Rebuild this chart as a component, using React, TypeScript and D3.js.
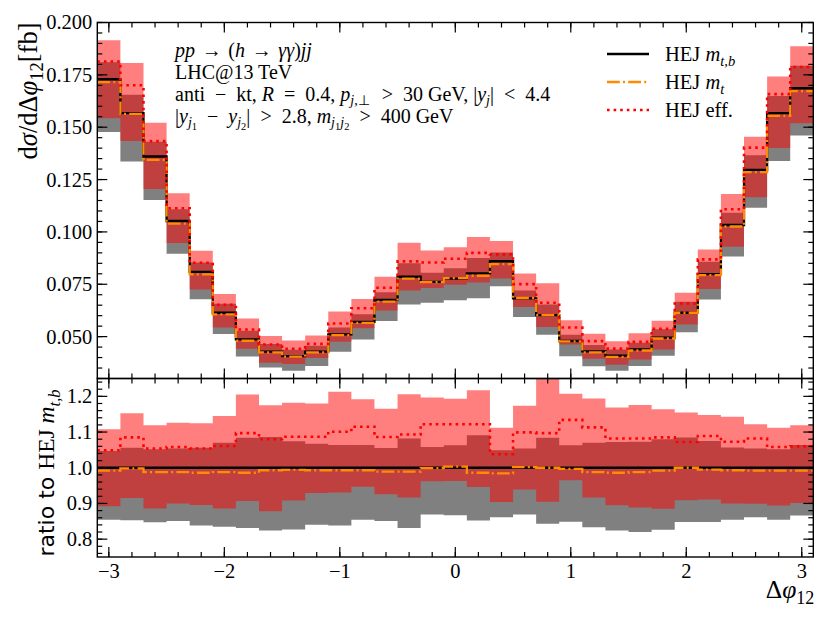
import React from 'react';
import * as d3 from 'd3';

// ---------- data ----------
const binCenters = [
  -3.0, -2.8, -2.6, -2.4, -2.2, -2.0, -1.8, -1.6, -1.4, -1.2, -1.0, -0.8, -0.6, -0.4, -0.2,
  0.0, 0.2, 0.4, 0.6, 0.8, 1.0, 1.2, 1.4, 1.6, 1.8, 2.0, 2.2, 2.4, 2.6, 2.8, 3.0,
];
const binWidth = 0.2;

// HEJ m_{t,b} central value [fb]
const centralMtb = [
  0.1729, 0.1567, 0.136, 0.1052, 0.0809, 0.0614, 0.0487, 0.0428, 0.0407, 0.0428, 0.0511,
  0.057, 0.0675, 0.0786, 0.0761, 0.0777, 0.0802, 0.086, 0.0683, 0.0603, 0.0479, 0.043,
  0.0409, 0.0439, 0.0495, 0.0614, 0.0798, 0.1033, 0.1296, 0.1567, 0.1686,
];
// ratios to HEJ m_{t,b}
const ratioMt = [
  0.992, 0.998, 0.988, 0.988, 0.986, 0.988, 0.986, 0.993, 0.994, 0.993, 0.993, 0.993, 0.989,
  0.989, 0.999, 1.003, 0.986, 0.984, 1.002, 1.0, 0.997, 0.988, 0.986, 0.988, 0.992, 1.0,
  0.995, 0.993, 0.992, 0.992, 0.992,
];
const ratioEff = [
  1.049, 1.085, 1.054, 1.058, 1.054, 1.061, 1.097, 1.08, 1.087, 1.087, 1.101, 1.115, 1.086,
  1.093, 1.122, 1.122, 1.122, 1.038, 1.099, 1.097, 1.134, 1.113, 1.082, 1.082, 1.085, 1.072,
  1.089, 1.073, 1.082, 1.058, 1.06,
];
// scale-uncertainty band of HEJ m_{t,b} (grey)
const mtbBandLo = [
  0.854, 0.853, 0.847, 0.851, 0.838, 0.835, 0.831, 0.824, 0.827, 0.84, 0.838, 0.854, 0.851,
  0.831, 0.869, 0.867, 0.852, 0.861, 0.869, 0.843, 0.849, 0.833, 0.824, 0.82, 0.826, 0.848,
  0.848, 0.854, 0.861, 0.854, 0.866,
];
const mtbBandHi = [
  1.047, 1.056, 1.052, 1.054, 1.056, 1.07, 1.084, 1.086, 1.074, 1.067, 1.064, 1.064, 1.055,
  1.082, 1.058, 1.063, 1.091, 1.049, 1.054, 1.084, 1.063, 1.07, 1.072, 1.073, 1.08, 1.085,
  1.075, 1.057, 1.054, 1.052, 1.064,
];
// scale-uncertainty band of HEJ eff. (red, translucent)
const effBandLo = [
  0.892, 0.915, 0.886, 0.9, 0.896, 0.886, 0.907, 0.878, 0.908, 0.929, 0.931, 0.947, 0.926,
  0.917, 0.962, 0.963, 0.946, 0.904, 0.939, 0.905, 0.965, 0.917, 0.895, 0.889, 0.885, 0.909,
  0.911, 0.9, 0.899, 0.894, 0.901,
];
const effBandHi = [
  1.108, 1.153, 1.119, 1.126, 1.125, 1.145, 1.205, 1.175, 1.182, 1.18, 1.213, 1.192, 1.165,
  1.206, 1.197, 1.193, 1.217, 1.112, 1.174, 1.252, 1.207, 1.194, 1.169, 1.176, 1.164, 1.155,
  1.148, 1.143, 1.122, 1.112, 1.119,
];

const xMajorTicks = [-3, -2, -1, 0, 1, 2, 3];
const mainMajorTicks = [0.05, 0.075, 0.1, 0.125, 0.15, 0.175, 0.2];
const ratioMajorTicks = [0.8, 0.9, 1.0, 1.1, 1.2];

// ---------- layout ----------
const W = 830;
const H = 623;
const L = 97.3;
const R = 813.3;
const mainTop = 22.5;
const mainBot = 378.5;
const ratioBot = 557;

const x = d3.scaleLinear().domain([-3.1, 3.1]).range([L, R]);
const yMain = d3.scaleLinear().domain([0.03, 0.2]).range([mainBot, mainTop]);
const yRatio = d3.scaleLinear().domain([0.75, 1.25]).range([ratioBot, mainBot]);

const SERIF = "'Liberation Serif', 'Times New Roman', serif";
const SANS = "'DejaVu Sans', sans-serif";
const SP = '\u2002'; // wider math spacing around relations
const SP3 = '\u2004'; // three-per-em space

type Pt = [number, number];
type BandPt = [number, number, number];

function stepPoints(vals: number[]): Pt[] {
  const pts: Pt[] = binCenters.map((c, i) => [c - binWidth / 2, vals[i]] as Pt);
  pts.push([binCenters[binCenters.length - 1] + binWidth / 2, vals[vals.length - 1]]);
  return pts;
}
function bandPoints(lo: number[], hi: number[]): BandPt[] {
  const pts: BandPt[] = binCenters.map((c, i) => [c - binWidth / 2, lo[i], hi[i]] as BandPt);
  pts.push([binCenters[binCenters.length - 1] + binWidth / 2, lo[lo.length - 1], hi[hi.length - 1]]);
  return pts;
}

function Panel({
  y,
  factor,
  clipId,
  top,
  bottom,
}: {
  y: d3.ScaleLinear<number, number>;
  factor: number[];
  clipId: string;
  top: number;
  bottom: number;
}) {
  const mul = (a: number[]) => a.map((v, i) => v * factor[i]);
  const line = d3
    .line<Pt>()
    .x((d) => x(d[0]))
    .y((d) => y(d[1]))
    .curve(d3.curveStepAfter);
  const area = d3
    .area<BandPt>()
    .x((d) => x(d[0]))
    .y0((d) => y(d[1]))
    .y1((d) => y(d[2]))
    .curve(d3.curveStepAfter);
  const centralLine = binCenters.map(() => 1);
  return (
    <g>
      <defs>
        <clipPath id={clipId}>
          <rect x={L} y={top} width={R - L} height={bottom - top} />
        </clipPath>
      </defs>
      <g clipPath={`url(#${clipId})`}>
        <path d={area(bandPoints(mul(mtbBandLo), mul(mtbBandHi))) || ''} fill="#808080" />
        <path
          d={area(bandPoints(mul(effBandLo), mul(effBandHi))) || ''}
          fill="red"
          fillOpacity={0.5}
        />
        <path
          d={line(stepPoints(mul(centralLine))) || ''}
          fill="none"
          stroke="black"
          strokeWidth={2.3}
        />
        <path
          d={line(stepPoints(mul(ratioMt))) || ''}
          fill="none"
          stroke="#ff8c00"
          strokeWidth={2.3}
          strokeDasharray="12.8 3.2 2 3.2"
        />
        <path
          d={line(stepPoints(mul(ratioEff))) || ''}
          fill="none"
          stroke="red"
          strokeWidth={2.6}
          strokeDasharray="2.6 4"
        />
      </g>
    </g>
  );
}

function Ticks({
  y,
  top,
  bottom,
  majors,
  minorStep,
  fmt,
}: {
  y: d3.ScaleLinear<number, number>;
  top: number;
  bottom: number;
  majors: number[];
  minorStep: number;
  fmt: (v: number) => string;
}) {
  const [d0, d1] = y.domain();
  const yMinors: number[] = [];
  for (let k = Math.ceil(d0 / minorStep - 1e-6); k * minorStep <= d1 + 1e-9; k++) {
    yMinors.push(+(k * minorStep).toFixed(4));
  }
  const xMinors: number[] = [];
  for (let k = -15; k <= 15; k++) xMinors.push(+(k * 0.2).toFixed(2));
  const MAJ = 10;
  const MIN = 5;
  const sw = 1.2;
  return (
    <g stroke="black" strokeWidth={sw}>
      {yMinors.map((v) => (
        <g key={'ym' + v}>
          <line x1={L} x2={L + MIN} y1={y(v)} y2={y(v)} />
          <line x1={R} x2={R - MIN} y1={y(v)} y2={y(v)} />
        </g>
      ))}
      {majors.map((v) => (
        <g key={'yM' + v}>
          <line x1={L} x2={L + MAJ} y1={y(v)} y2={y(v)} />
          <line x1={R} x2={R - MAJ} y1={y(v)} y2={y(v)} />
          <text
            x={L - 5}
            y={y(v)}
            dy="0.34em"
            textAnchor="end"
            stroke="none"
            fill="black"
            fontFamily={SERIF}
            fontSize={20.5}
          >
            {fmt(v)}
          </text>
        </g>
      ))}
      {xMinors.map((v) => (
        <g key={'xm' + v}>
          <line x1={x(v)} x2={x(v)} y1={bottom} y2={bottom - MIN} />
          <line x1={x(v)} x2={x(v)} y1={top} y2={top + MIN} />
        </g>
      ))}
      {xMajorTicks.map((v) => (
        <g key={'xM' + v}>
          <line x1={x(v)} x2={x(v)} y1={bottom} y2={bottom - MAJ} />
          <line x1={x(v)} x2={x(v)} y1={top} y2={top + MAJ} />
        </g>
      ))}
      <rect x={L} y={top} width={R - L} height={bottom - top} fill="none" strokeWidth={1.4} />
    </g>
  );
}

export default function App() {
  const fmtMain = d3.format('.3f');
  const fmtRatio = d3.format('.1f');
  return (
    <svg
      width={W}
      height={H}
      viewBox={`0 0 ${W} ${H}`}
      style={{ position: 'absolute', left: 0, top: 0, background: 'white' }}
    >
      <rect x={0} y={0} width={W} height={H} fill="white" />
      <Panel y={yMain} factor={centralMtb} clipId="clipMain" top={mainTop} bottom={mainBot} />
      <Panel
        y={yRatio}
        factor={binCenters.map(() => 1)}
        clipId="clipRatio"
        top={mainBot}
        bottom={ratioBot}
      />
      <Ticks y={yMain} top={mainTop} bottom={mainBot} majors={mainMajorTicks} minorStep={0.005} fmt={(v) => fmtMain(v)} />
      <Ticks y={yRatio} top={mainBot} bottom={ratioBot} majors={ratioMajorTicks} minorStep={0.02} fmt={(v) => fmtRatio(v)} />

      {/* x tick labels */}
      {xMajorTicks.map((v) => (
        <text
          key={'xl' + v}
          x={x(v)}
          y={577.5}
          textAnchor="middle"
          fontFamily={SERIF}
          fontSize={20.5}
        >
          {v < 0 ? '\u2212' + Math.abs(v) : String(v)}
        </text>
      ))}

      {/* x label */}
      <text x={R + 1} y={598} textAnchor="end" fontFamily={SERIF} fontSize={25.5}>
        Δ<tspan fontStyle="italic">φ</tspan>
        <tspan dy={6} fontSize={18}>12</tspan>
      </text>

      {/* main y label */}
      <text
        transform={`translate(37, ${mainTop}) rotate(-90)`}
        textAnchor="end"
        fontFamily={SERIF}
        fontSize={26.5}
      >
        d<tspan fontStyle="italic">σ</tspan>/dΔ<tspan fontStyle="italic">φ</tspan>
        <tspan dy={6} fontSize={18.5}>12</tspan>
        <tspan dy={-6}>[fb]</tspan>
      </text>

      {/* ratio y label */}
      <text
        transform={`translate(54, 473) rotate(-90)`}
        textAnchor="middle"
        fontSize={22}
      >
        <tspan fontFamily={SANS}>ratio to </tspan>
        <tspan fontFamily={SERIF} fontSize={23.5}>
          HEJ <tspan fontStyle="italic">m</tspan>
          <tspan dy={5.5} fontSize={16.5} fontStyle="italic">t,b</tspan>
        </tspan>
      </text>

      {/* annotation */}
      <g fontFamily={SERIF} fontSize={20}>
        <text x={175} y={56.5}>
          <tspan fontStyle="italic">pp</tspan>
          {SP3}→{SP3}(<tspan fontStyle="italic">h</tspan>
          {SP3}→{SP3}
          <tspan fontStyle="italic">γγ</tspan>)<tspan fontStyle="italic">jj</tspan>
        </text>
        <text x={175} y={78.5}>
          LHC@13 TeV
        </text>
        <text x={175} y={100.5}>
          anti{SP}−{SP}kt, <tspan fontStyle="italic">R</tspan>
          {SP}={SP}0.4, <tspan fontStyle="italic">p</tspan>
          <tspan dy={4.5} fontSize={14}>
            <tspan fontStyle="italic">j</tspan>,⊥
          </tspan>
          <tspan dy={-4.5} dx={2}>
            {SP}&gt;{SP}30 GeV, |
          </tspan>
          <tspan fontStyle="italic">y</tspan>
          <tspan dy={4.5} fontSize={14} fontStyle="italic">j</tspan>
          <tspan dy={-4.5}>
            |{SP}&lt;{SP}4.4
          </tspan>
        </text>
        <text x={175} y={122.5}>
          |<tspan fontStyle="italic">y</tspan>
          <tspan dy={4.5} fontSize={14} fontStyle="italic">j</tspan>
          <tspan dy={2.5} fontSize={10.5}>1</tspan>
          <tspan dy={-7}>{SP}−{SP}</tspan>
          <tspan fontStyle="italic">y</tspan>
          <tspan dy={4.5} fontSize={14} fontStyle="italic">j</tspan>
          <tspan dy={2.5} fontSize={10.5}>2</tspan>
          <tspan dy={-7}>|{SP}&gt;{SP}2.8, </tspan>
          <tspan fontStyle="italic">m</tspan>
          <tspan dy={4.5} fontSize={14} fontStyle="italic">j</tspan>
          <tspan dy={2.5} fontSize={10.5}>1</tspan>
          <tspan dy={-2.5} fontSize={14} fontStyle="italic">j</tspan>
          <tspan dy={2.5} fontSize={10.5}>2</tspan>
          <tspan dy={-7}>{SP}&gt;{SP}400 GeV</tspan>
        </text>
      </g>

      {/* legend */}
      <g fontFamily={SERIF} fontSize={20.5}>
        <line x1={607} x2={649} y1={54} y2={54} stroke="black" strokeWidth={2.3} />
        <text x={665} y={61}>
          HEJ <tspan fontStyle="italic">m</tspan>
          <tspan dy={5} fontSize={14.5} fontStyle="italic">t,b</tspan>
        </text>
        <line
          x1={607}
          x2={649}
          y1={82}
          y2={82}
          stroke="#ff8c00"
          strokeWidth={2.3}
          strokeDasharray="12.8 3.2 2 3.2"
        />
        <text x={665} y={89}>
          HEJ <tspan fontStyle="italic">m</tspan>
          <tspan dy={5} fontSize={14.5} fontStyle="italic">t</tspan>
        </text>
        <line
          x1={607}
          x2={649}
          y1={110}
          y2={110}
          stroke="red"
          strokeWidth={2.6}
          strokeDasharray="2.6 4"
        />
        <text x={665} y={117}>
          HEJ eff.
        </text>
      </g>
    </svg>
  );
}
